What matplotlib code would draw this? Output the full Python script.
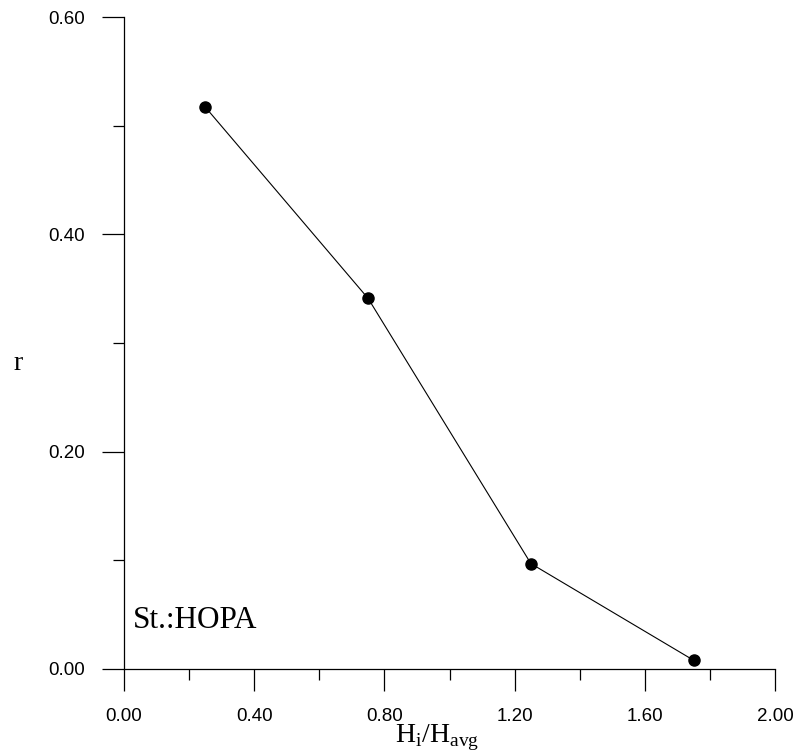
import matplotlib.pyplot as plt
from matplotlib.ticker import MultipleLocator, FormatStrFormatter

plt.rcParams['mathtext.fontset'] = 'custom'
plt.rcParams['mathtext.rm'] = 'Liberation Serif'

# station data: relative height vs r
h_ratio = [0.25, 0.75, 1.25, 1.75]
r_vals = [0.517, 0.341, 0.097, 0.008]
station = "St.:HOPA"

fig = plt.figure(figsize=(7.98, 7.56), dpi=100)
ax = fig.add_axes([0.1554, 0.1151, 0.8158, 0.8624])

ax.plot(h_ratio, r_vals, color='black', lw=0.8, marker='o', ms=8, mfc='black', mec='black')

ax.set_xlim(0, 2.0)
ax.set_ylim(0, 0.6)
ax.spines['top'].set_visible(False)
ax.spines['right'].set_visible(False)
for s in ['left', 'bottom']:
    ax.spines[s].set_linewidth(0.9)

ax.xaxis.set_major_locator(MultipleLocator(0.4))
ax.xaxis.set_minor_locator(MultipleLocator(0.2))
ax.yaxis.set_major_locator(MultipleLocator(0.2))
ax.yaxis.set_minor_locator(MultipleLocator(0.1))
ax.xaxis.set_major_formatter(FormatStrFormatter('%.2f'))
ax.yaxis.set_major_formatter(FormatStrFormatter('%.2f'))
ax.tick_params(which='major', direction='out', length=16, width=0.9, pad=12,
               labelsize=13.5)
ax.tick_params(which='minor', direction='out', length=8, width=0.9)
for lab in ax.get_xticklabels() + ax.get_yticklabels():
    lab.set_fontfamily('Liberation Sans')

ax.text(0.013, 0.063, station, transform=ax.transAxes, fontsize=22.5,
        family='Liberation Serif', ha='left', va='baseline')

fig.text(437 / 798, 1 - 742 / 756, r'H$_\mathregular{i}$/H$_\mathregular{avg}$',
         fontsize=20, family='Liberation Serif', ha='center', va='baseline')
fig.text(18 / 798, 1 - 364 / 756, 'r', fontsize=20, family='Liberation Serif',
         ha='center', va='center')

fig.savefig('out.png', dpi=100)
